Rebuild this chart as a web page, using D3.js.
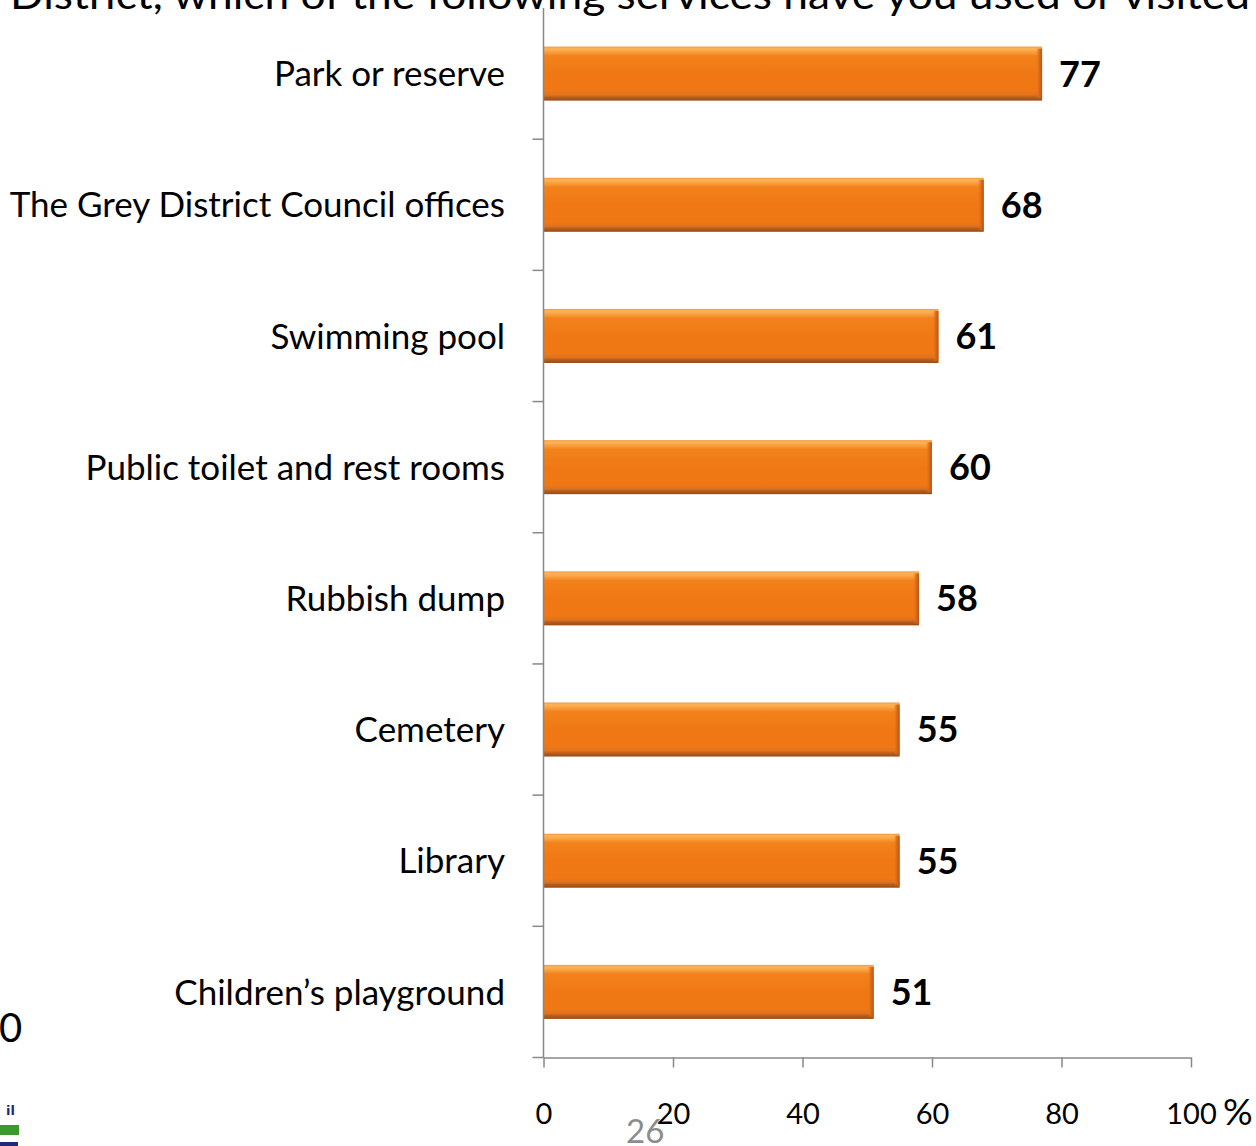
<!DOCTYPE html>
<html>
<head>
<meta charset="utf-8">
<script src="https://cdn.jsdelivr.net/npm/d3@7"></script>
<style>
  html, body { margin: 0; padding: 0; background: #ffffff; overflow: hidden; }
  svg { display: block; }
</style>
</head>
<body>
<script>
// Services used or visited in the Grey District (% of respondents)
const categories = [
  "Park or reserve",
  "The Grey District Council offices",
  "Swimming pool",
  "Public toilet and rest rooms",
  "Rubbish dump",
  "Cemetery",
  "Library",
  "Children\u2019s playground"
];
const values = [77, 68, 61, 60, 58, 55, 55, 51];
const xTicks = [0, 20, 40, 60, 80, 100];
const titleText = "District, which of the following services have you used or visited";
const pageNumber = "26";

const W = 1256, H = 1146;
const FONT = "Lato, 'Open Sans', 'DejaVu Sans', sans-serif";

const svg = d3.select("body").append("svg")
  .attr("width", W).attr("height", H);

const defs = svg.append("defs");

// Vertical shading of each bar: light rim on top, darker lip at the bottom
const g1 = defs.append("linearGradient").attr("id", "barFill")
  .attr("x1", 0).attr("y1", 0).attr("x2", 0).attr("y2", 1);
[
  [0, "#f39a45"], [0.04, "#fdb456"], [0.1, "#f8a040"], [0.17, "#f2821b"],
  [0.5, "#f07814"], [0.82, "#f07814"], [0.9, "#de7220"], [0.94, "#b65d1c"],
  [1, "#9a4b17"]
].forEach(([o, c]) => g1.append("stop").attr("offset", o).attr("stop-color", c));

// Bevel on the bar's right end
const g2 = defs.append("linearGradient").attr("id", "barEnd")
  .attr("x1", 0).attr("y1", 0).attr("x2", 1).attr("y2", 0);
[[0, "#f07814", 0], [0.5, "#d3661a", 0.8], [1, "#b5581a", 1]]
  .forEach(([o, c, a]) => g2.append("stop").attr("offset", o)
    .attr("stop-color", c).attr("stop-opacity", a));

// Scales
const x = d3.scaleLinear().domain([0, 100]).range([543.5, 1191]);
const y = d3.scaleBand().domain(categories).range([8, 1057.5])
  .paddingInner(0.588).paddingOuter(0.294);

// Title (runs off the top of the page)
svg.append("text")
  .attr("x", 10).attr("y", 9)
  .attr("textLength", 1240).attr("lengthAdjust", "spacingAndGlyphs")
  .style("font-family", FONT).style("font-size", "41px").attr("fill", "#000")
  .text(titleText);

// Bars
const bars = svg.append("g").selectAll("g.bar")
  .data(categories.map((c, i) => ({ c, v: values[i] })))
  .join("g").attr("class", "bar");

bars.append("rect")
  .attr("x", x(0)).attr("y", d => y(d.c))
  .attr("width", d => x(d.v) - x(0)).attr("height", y.bandwidth())
  .attr("fill", "url(#barFill)");

bars.append("rect")
  .attr("x", d => x(d.v) - 6).attr("y", d => y(d.c) + 2)
  .attr("width", 6).attr("height", y.bandwidth() - 4)
  .attr("fill", "url(#barEnd)");

// Value labels
bars.append("text")
  .attr("x", d => x(d.v) + 17)
  .attr("y", d => y(d.c) + y.bandwidth() / 2)
  .attr("dy", "0.36em")
  .style("font-family", FONT).style("font-size", "36px").style("font-weight", 700)
  .attr("fill", "#000")
  .text(d => d.v);

// Category labels
svg.append("g").selectAll("text")
  .data(categories)
  .join("text")
  .attr("x", 505)
  .attr("y", d => y(d) + y.bandwidth() / 2)
  .attr("dy", "0.36em")
  .attr("text-anchor", "end")
  .style("font-family", FONT).style("font-size", "35px")
  .attr("fill", "#000")
  .text(d => d);

// Vertical axis with ticks at category boundaries
const axisColor = "#888888";
const yAxis = svg.append("g");
yAxis.append("line")
  .attr("x1", x(0)).attr("x2", x(0))
  .attr("y1", y.range()[0]).attr("y2", y.range()[1])
  .attr("stroke", axisColor).attr("stroke-width", 1.5);
const boundaries = categories.slice(1).map(c => y(c) - y.step() * y.paddingInner() / 2)
  .concat([y.range()[1]]);
yAxis.selectAll("line.tick")
  .data(boundaries)
  .join("line").attr("class", "tick")
  .attr("x1", x(0) - 11).attr("x2", x(0))
  .attr("y1", d => d).attr("y2", d => d)
  .attr("stroke", axisColor).attr("stroke-width", 1.5);

// Horizontal axis
const xAxis = svg.append("g")
  .attr("transform", `translate(0,${y.range()[1]})`)
  .call(d3.axisBottom(x).tickValues(xTicks).tickSize(10).tickSizeOuter(0)
    .tickPadding(36).tickFormat(d => d));
xAxis.select(".domain").attr("stroke", axisColor).attr("stroke-width", 1.5);
xAxis.selectAll(".tick line").attr("stroke", axisColor).attr("stroke-width", 1.5);
xAxis.selectAll(".tick text")
  .style("font-family", FONT).style("font-size", "29px").attr("fill", "#000");

svg.append("text")
  .attr("x", 1223).attr("y", 1125)
  .style("font-family", FONT).style("font-size", "37px").attr("fill", "#000")
  .text("%");

// Page number
svg.append("text")
  .attr("x", 626).attr("y", 1143)
  .style("font-family", FONT).style("font-size", "33px").attr("fill", "#8c8c8c")
  .text(pageNumber);

// Edge of a neighbouring slide element and the council logo fragment
svg.append("text")
  .attr("x", -1).attr("y", 1042)
  .style("font-family", FONT).style("font-size", "40px").attr("fill", "#000")
  .text("0");

svg.append("text")
  .attr("x", 15).attr("y", 1115).attr("text-anchor", "end")
  .style("font-family", "'DejaVu Sans', sans-serif").style("font-size", "13px")
  .style("font-weight", 700).attr("fill", "#1c2a7a")
  .text("il");
svg.append("rect").attr("x", 0).attr("y", 1125).attr("width", 19).attr("height", 10)
  .attr("fill", "#3b9a2c");
svg.append("rect").attr("x", 0).attr("y", 1142).attr("width", 18).attr("height", 4)
  .attr("fill", "#1c2a7a");
</script>
</body>
</html>
